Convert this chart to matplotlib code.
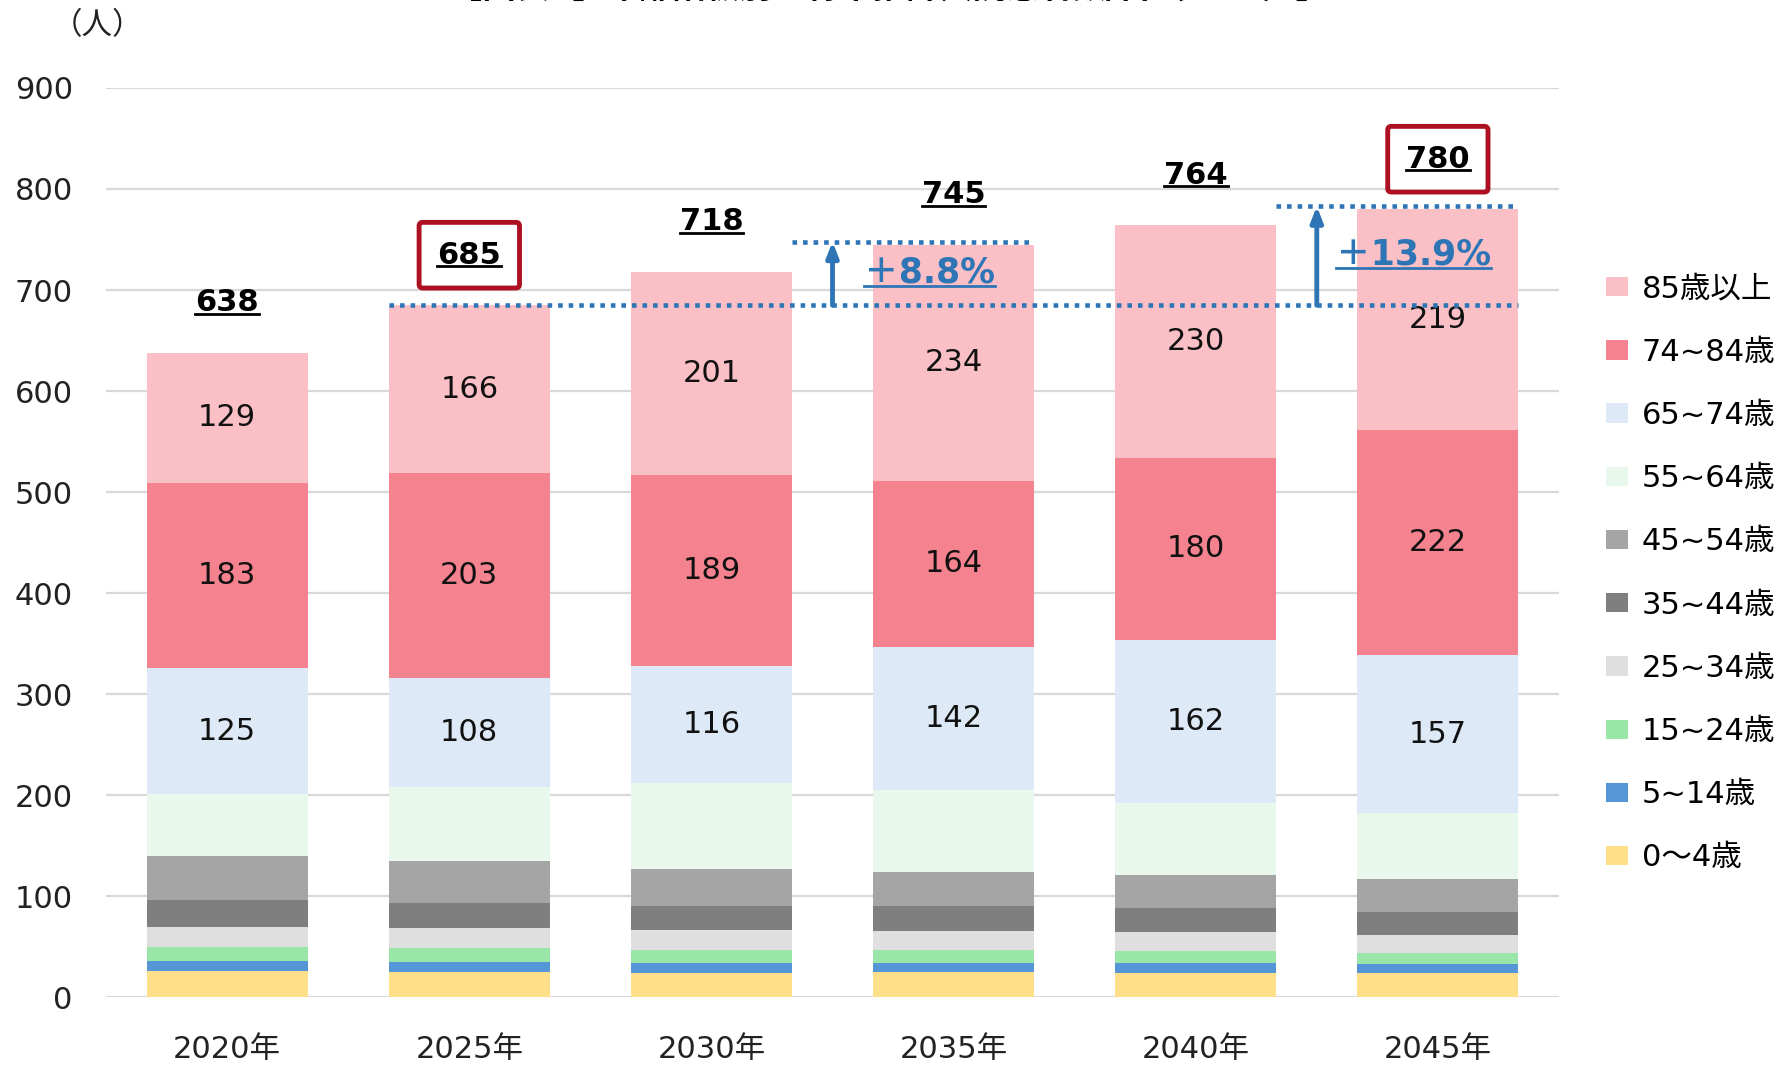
"""Age-group inpatient projection (stacked bars)."""
import numpy as np
import matplotlib
matplotlib.use("Agg")
import matplotlib.pyplot as plt
from matplotlib.lines import Line2D

plt.rcParams["font.family"] = ["DejaVu Sans", "Noto Sans CJK JP"]

# ── data ────────────────────────────────────────────────────────────────────
years = ["2020年", "2025年", "2030年", "2035年", "2040年", "2045年"]
groups = ["0～4歳", "5~14歳", "15~24歳", "25~34歳", "35~44歳",
          "45~54歳", "55~64歳", "65~74歳", "74~84歳", "85歳以上"]

age_0_4   = [26, 25, 24, 25, 24, 24]
age_5_14  = [10, 10, 10, 9, 10, 9]
age_15_24 = [14, 14, 13, 13, 12, 11]
age_25_34 = [20, 20, 20, 19, 19, 18]
age_35_44 = [26, 24, 23, 24, 23, 22]
age_45_54 = [44, 42, 37, 34, 33, 33]
age_55_64 = [61, 73, 85, 81, 71, 65]
age_65_74 = [125, 108, 116, 142, 162, 157]
age_75_84 = [183, 203, 189, 164, 180, 222]
age_85_up = [129, 166, 201, 234, 230, 219]

totals = [638, 685, 718, 745, 764, 780]
labelled = {7: age_65_74, 8: age_75_84, 9: age_85_up}

# growth callouts: (base year idx, target year idx, label)
growth = [(1, 3, "＋8.8%"), (1, 5, "＋13.9%")]
boxed = [1, 5]

colors = ["#fee08b", "#5597d6", "#9ae6a9", "#dfdfdf", "#7f7f7f",
          "#a5a5a5", "#e9f8ec", "#dde9f6", "#f5838f", "#fbc0c6"]
BLUE = "#2e75b6"
RED = "#ad1021"

series = [age_0_4, age_5_14, age_15_24, age_25_34, age_35_44,
          age_45_54, age_55_64, age_65_74, age_75_84, age_85_up]

# ── figure ──────────────────────────────────────────────────────────────────
fig = plt.figure(figsize=(17.89, 10.66), dpi=100)
ax = fig.add_axes([0.0593, 0.0644, 0.8121, 0.8531])

x = np.arange(len(years))
W = 0.665
bottom = np.zeros(len(years))
for i, vals in enumerate(series):
    vals = np.array(vals, dtype=float)
    ax.bar(x, vals, W, bottom=bottom, color=colors[i], label=groups[i],
           zorder=2, linewidth=0)
    if i in labelled:
        for xi, b, v in zip(x, bottom, vals):
            ax.text(xi, b + v / 2, f"{int(v)}", ha="center", va="center",
                    fontsize=22, color="#111111", zorder=4)
    bottom += vals

ax.set_xlim(-0.5, len(years) - 0.5)
ax.set_ylim(0, 900)
ax.set_yticks(np.arange(0, 901, 100))
ax.yaxis.grid(True, color="#d9d9d9", lw=1.6, zorder=0)
ax.set_axisbelow(True)
for s in ax.spines.values():
    s.set_visible(False)
ax.tick_params(axis="both", length=0, labelsize=22, colors="#222222")
ax.tick_params(axis="y", pad=24)
ax.tick_params(axis="x", pad=27)
ax.set_xticks(x)
ax.set_xticklabels(years)

# totals above bars
total_texts = []
for xi, t in zip(x, totals):
    bb = None
    if xi in boxed:
        bb = dict(boxstyle="round,pad=0.6,rounding_size=0.12",
                  fc="white", ec=RED, lw=3.5)
    txt = ax.annotate(f"{t}", (xi, t), xytext=(0, 36), textcoords="offset points",
                      ha="center", va="center", fontsize=22, fontweight="bold",
                      color="black", bbox=bb, zorder=6)
    total_texts.append(txt)

# growth reference lines, arrows, labels
base_idx = growth[0][0]
ax.plot([base_idx - W / 2, len(years) - 1 + W / 2], [totals[base_idx]] * 2,
        color=BLUE, lw=3.3, ls=(0, (1, 1.3)), zorder=5)
pct_texts = []
for b, tgt, lab in growth:
    ytop = totals[tgt] + 3
    ax.plot([tgt - 1 + W / 2, tgt + W / 2], [ytop, ytop],
            color=BLUE, lw=3.3, ls=(0, (1, 1.3)), zorder=5)
    ax.annotate("", xy=(tgt - 0.5, ytop), xytext=(tgt - 0.5, totals[b]),
                arrowprops=dict(arrowstyle="-|>,head_width=0.35,head_length=0.9",
                                color=BLUE, lw=3.5, shrinkA=0, shrinkB=0),
                zorder=5)
    ymid = (totals[b] + ytop) / 2
    pt = ax.text(tgt - 0.1, ymid + 1, lab, ha="center", va="center",
                 fontsize=25, fontweight="bold", color=BLUE, zorder=6)
    pct_texts.append(pt)

# unit label and (clipped) title
fig.text(0.029, 0.976, "（人）", fontsize=22, ha="left", va="center", color="#222222")
fig.text(0.497, 0.995, "【図表4】年齢階級別　将来推計入院患者数/日（DPC）】",
         fontsize=24, fontweight="bold", ha="center", va="bottom")

# legend (reverse order)
handles, labels = ax.get_legend_handles_labels()
fig.legend(handles[::-1], labels[::-1], loc="upper left",
           bbox_to_anchor=(0.891, 0.754), frameon=False, fontsize=22,
           handlelength=0.72, handleheight=0.6, handletextpad=0.45,
           labelspacing=1.12, borderaxespad=0)

# underlines
fig.canvas.draw()
r = fig.canvas.get_renderer()
def underline(t, color, lw, frac=0.2):
    bb = t.get_window_extent(r)
    y = bb.y0 + frac * bb.height
    fx0, fx1 = bb.x0 / fig.bbox.width, bb.x1 / fig.bbox.width
    fy = y / fig.bbox.height
    fig.add_artist(Line2D([fx0, fx1], [fy, fy], color=color, lw=lw, zorder=7))

for t in total_texts:
    underline(t, "black", 2.0, frac=0.12)
for t in pct_texts:
    underline(t, BLUE, 2.0, frac=0.1)

fig.savefig("out.png", dpi=100)
